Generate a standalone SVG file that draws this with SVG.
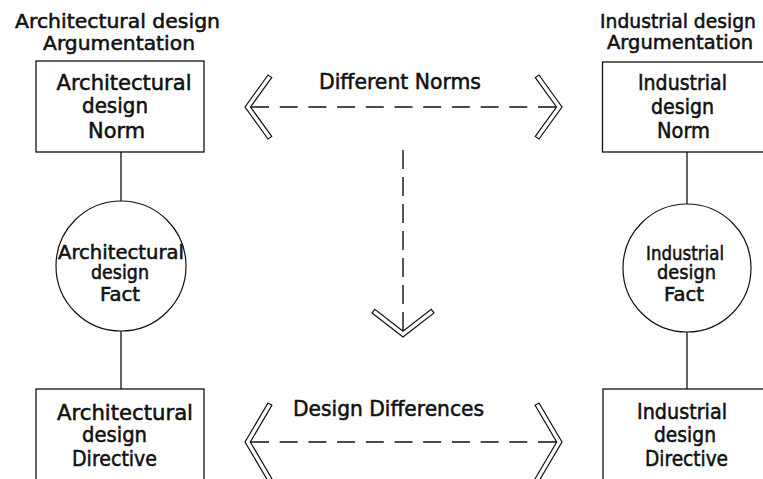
<svg xmlns="http://www.w3.org/2000/svg" width="763" height="479" viewBox="0 0 763 479">
  <style>
    .box { fill: #fff; stroke: #111; stroke-width: 1.3; }
    .circ { fill: #fff; stroke: #111; stroke-width: 1.2; }
    .link { stroke: #111; stroke-width: 1.3; fill: none; }
    .dash { stroke: #111; stroke-width: 1.4; fill: none; }
    .chev { fill: #fff; stroke: #111; stroke-width: 1.2; stroke-linejoin: miter; }
    text { font-family: "DejaVu Sans", "Liberation Sans", sans-serif; fill: #111; stroke: #111; stroke-width: 0.55; text-anchor: middle; }
    .t { font-size: 20px; }
    .b { font-size: 21px; }
    .c { font-size: 19px; }
  </style>
  <rect width="763" height="479" fill="#fff"/>

  <!-- column headings -->
  <g id="heading-architectural">
    <text class="t" x="117.5" y="28" textLength="205" lengthAdjust="spacingAndGlyphs">Architectural design</text>
    <text class="t" x="119" y="50" textLength="152" lengthAdjust="spacingAndGlyphs">Argumentation</text>
  </g>
  <g id="heading-industrial">
    <text class="t" x="678" y="28" textLength="156" lengthAdjust="spacingAndGlyphs">Industrial design</text>
    <text class="t" x="680" y="49" textLength="146" lengthAdjust="spacingAndGlyphs">Argumentation</text>
  </g>

  <!-- connectors -->
  <g id="connectors">
    <line class="link" x1="121" y1="152" x2="121" y2="201"/>
    <line class="link" x1="121" y1="331" x2="121" y2="389"/>
    <line class="link" x1="687" y1="152" x2="687" y2="204"/>
    <line class="link" x1="687" y1="332" x2="687" y2="389"/>

    <line class="dash" x1="251" y1="107" x2="556" y2="107" stroke-dasharray="18 10.7"/>
    <polygon class="chev" points="268,75 245,107 268,139 271.7,136.4 250.5,107 271.7,77.6"/>
    <polygon class="chev" points="539,75 562,107 539,139 535.3,136.4 556.5,107 535.3,77.6"/>

    <line class="dash" x1="403" y1="150" x2="403" y2="331" stroke-dasharray="19 8"/>
    <polygon class="chev" points="372,313 403,337 434,313 431.2,309.4 403,331.3 374.8,309.4"/>

    <line class="dash" x1="251" y1="442" x2="556" y2="442" stroke-dasharray="18 10.7"/>
    <polygon class="chev" points="268,403 245,442 268,481 271.9,478.7 250.3,442 271.9,405.3"/>
    <polygon class="chev" points="539,403 562,442 539,481 535.1,478.7 556.7,442 535.1,405.3"/>
  </g>

  <!-- connector labels -->
  <text class="b" x="400" y="89" textLength="162" lengthAdjust="spacingAndGlyphs">Different Norms</text>
  <text class="b" x="388.5" y="416" textLength="191" lengthAdjust="spacingAndGlyphs">Design Differences</text>

  <!-- architectural column -->
  <g id="arch-norm">
    <rect class="box" x="36" y="61" width="168" height="91"/>
    <text class="b" x="124" y="90" textLength="135" lengthAdjust="spacingAndGlyphs">Architectural</text>
    <text class="b" x="115" y="113" textLength="66" lengthAdjust="spacingAndGlyphs">design</text>
    <text class="b" x="116.5" y="138" textLength="57" lengthAdjust="spacingAndGlyphs">Norm</text>
  </g>
  <g id="arch-fact">
    <circle class="circ" cx="121" cy="266" r="65"/>
    <text class="c" x="121" y="259" textLength="126" lengthAdjust="spacingAndGlyphs">Architectural</text>
    <text class="c" x="120" y="279" textLength="58" lengthAdjust="spacingAndGlyphs">design</text>
    <text class="c" x="120" y="301" textLength="40" lengthAdjust="spacingAndGlyphs">Fact</text>
  </g>
  <g id="arch-directive">
    <rect class="box" x="36" y="389" width="168" height="100"/>
    <text class="b" x="125" y="420" textLength="136" lengthAdjust="spacingAndGlyphs">Architectural</text>
    <text class="b" x="114.5" y="442" textLength="65" lengthAdjust="spacingAndGlyphs">design</text>
    <text class="b" x="114.5" y="466" textLength="85" lengthAdjust="spacingAndGlyphs">Directive</text>
  </g>

  <!-- industrial column -->
  <g id="ind-norm">
    <rect class="box" x="602.5" y="62" width="170" height="90"/>
    <text class="b" x="682.5" y="90" textLength="89" lengthAdjust="spacingAndGlyphs">Industrial</text>
    <text class="b" x="682.5" y="114" textLength="63" lengthAdjust="spacingAndGlyphs">design</text>
    <text class="b" x="683.5" y="138" textLength="53" lengthAdjust="spacingAndGlyphs">Norm</text>
  </g>
  <g id="ind-fact">
    <circle class="circ" cx="687" cy="268" r="64"/>
    <text class="c" x="685" y="260" textLength="78" lengthAdjust="spacingAndGlyphs">Industrial</text>
    <text class="c" x="686.5" y="279" textLength="59" lengthAdjust="spacingAndGlyphs">design</text>
    <text class="c" x="684" y="301" textLength="40" lengthAdjust="spacingAndGlyphs">Fact</text>
  </g>
  <g id="ind-directive">
    <rect class="box" x="603" y="389" width="170" height="100"/>
    <text class="b" x="682" y="419" textLength="90" lengthAdjust="spacingAndGlyphs">Industrial</text>
    <text class="b" x="685" y="442" textLength="62" lengthAdjust="spacingAndGlyphs">design</text>
    <text class="b" x="686.5" y="466" textLength="83" lengthAdjust="spacingAndGlyphs">Directive</text>
  </g>
</svg>
